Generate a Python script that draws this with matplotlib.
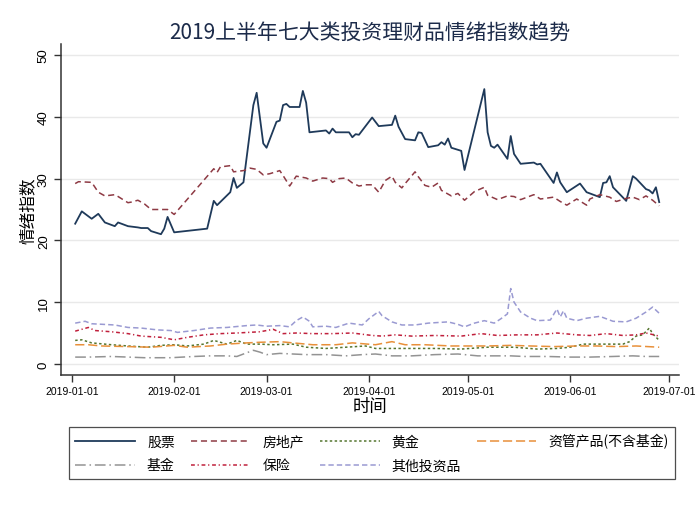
import matplotlib
matplotlib.use("Agg")
import matplotlib.pyplot as plt
import matplotlib.dates as mdates
import pandas as pd

plt.rcParams['font.family'] = ['Noto Sans CJK SC', 'DejaVu Sans']

START = "2019-01-01"

# 股票
stock_days = [1, 3, 6, 8, 10, 13, 14, 17, 20, 21, 23, 24, 27, 28, 29, 31, 41, 43, 44, 48, 49, 50, 52, 55, 56, 58, 59, 62, 63, 64, 65, 66, 69, 70, 71, 72, 77, 78, 79, 80, 84, 85, 86, 87, 89, 91, 93, 97, 98, 99, 101, 104, 105, 106, 108, 111, 112, 113, 114, 115, 118, 119, 125, 126, 127, 128, 129, 132, 133, 134, 136, 140, 141, 142, 146, 147, 148, 150, 154, 156, 160, 161, 162, 163, 164, 168, 170, 171, 174, 175, 176, 177, 178]
stock_vals = [22.7, 24.7, 23.5, 24.3, 22.9, 22.3, 22.9, 22.3, 22.1, 22.0, 22.0, 21.5, 21.0, 21.9, 23.8, 21.3, 21.9, 26.4, 25.7, 27.8, 30.1, 28.5, 29.4, 41.9, 43.9, 35.7, 35.0, 39.2, 39.4, 41.9, 42.1, 41.6, 41.6, 44.2, 42.3, 37.5, 37.8, 37.3, 38.1, 37.5, 37.5, 36.7, 37.2, 37.1, 38.5, 39.9, 38.5, 38.7, 40.2, 38.4, 36.4, 36.2, 37.5, 37.4, 35.1, 35.4, 35.9, 35.5, 36.5, 35.0, 34.5, 31.4, 44.5, 37.5, 35.3, 35.0, 35.5, 33.2, 36.9, 34.0, 32.4, 32.6, 32.3, 32.4, 29.3, 31.0, 29.4, 27.8, 29.2, 27.8, 27.0, 29.3, 29.4, 30.4, 28.6, 26.4, 30.4, 30.0, 28.3, 28.1, 27.6, 28.6, 26.2]

# 房地产
estate_days = [1, 2, 6, 8, 10, 13, 14, 17, 18, 20, 22, 24, 27, 29, 31, 43, 44, 45, 48, 49, 52, 54, 56, 58, 60, 63, 64, 66, 68, 71, 73, 76, 78, 79, 81, 83, 85, 87, 89, 91, 93, 95, 97, 98, 100, 101, 104, 105, 107, 109, 111, 112, 115, 117, 119, 122, 125, 126, 129, 132, 134, 136, 140, 142, 146, 148, 150, 153, 156, 157, 160, 163, 165, 168, 170, 172, 174, 176, 178]
estate_vals = [29.2, 29.5, 29.4, 27.8, 27.2, 27.4, 27.1, 26.1, 26.2, 26.5, 25.9, 25.0, 25.0, 25.0, 24.2, 31.6, 31.0, 31.9, 32.1, 31.1, 31.3, 31.7, 31.5, 30.6, 30.8, 31.3, 30.5, 28.8, 30.4, 30.1, 29.6, 30.1, 30.0, 29.4, 30.0, 30.1, 29.3, 28.8, 29.0, 29.0, 27.8, 29.7, 30.4, 29.4, 28.5, 29.2, 31.1, 30.3, 28.9, 28.6, 29.3, 28.1, 27.2, 27.6, 26.5, 27.9, 28.6, 27.3, 26.6, 27.2, 27.1, 26.6, 27.4, 26.7, 27.0, 26.3, 25.7, 26.7, 25.7, 26.7, 27.4, 27.0, 26.3, 26.8, 27.0, 26.6, 27.2, 26.5, 25.6]

# 黄金
gold_days = [1, 3, 6, 12, 17, 23, 27, 31, 35, 40, 43, 47, 50, 53, 57, 61, 67, 71, 77, 83, 89, 92, 100, 110, 118, 126, 134, 141, 147, 151, 155, 161, 167, 169, 171, 173, 175, 176, 178]
gold_vals = [3.8, 3.9, 3.4, 3.1, 2.9, 2.7, 3.0, 3.1, 2.9, 3.2, 3.8, 3.2, 3.8, 3.2, 3.2, 3.1, 3.2, 2.7, 2.5, 2.7, 2.9, 2.5, 2.5, 2.5, 2.4, 2.7, 2.7, 2.4, 2.5, 2.7, 3.2, 3.2, 3.2, 3.6, 4.5, 4.7, 5.8, 4.9, 3.8]

# 资管产品(不含基金)
asset_days = [1, 5, 9, 17, 24, 31, 35, 42, 47, 53, 57, 63, 67, 73, 80, 85, 92, 97, 101, 107, 115, 120, 126, 133, 139, 146, 153, 159, 165, 171, 178]
asset_vals = [3.1, 3.1, 2.9, 2.8, 2.7, 3.0, 2.7, 2.9, 3.2, 3.4, 3.5, 3.6, 3.4, 3.1, 3.1, 3.4, 3.1, 3.6, 3.1, 3.1, 2.9, 2.9, 2.9, 3.0, 2.9, 2.8, 2.9, 2.9, 2.8, 2.9, 2.7]

# 基金
fund_days = [1, 5, 12, 22, 30, 37, 42, 47, 50, 52, 55, 57, 59, 63, 67, 71, 77, 83, 88, 92, 97, 103, 110, 117, 123, 133, 137, 144, 151, 157, 164, 170, 174, 178]
fund_vals = [1.1, 1.1, 1.2, 1.0, 1.0, 1.2, 1.3, 1.3, 1.2, 1.6, 2.2, 1.9, 1.5, 1.7, 1.6, 1.5, 1.5, 1.3, 1.5, 1.6, 1.3, 1.3, 1.5, 1.6, 1.3, 1.3, 1.2, 1.2, 1.1, 1.1, 1.2, 1.3, 1.2, 1.2]

# 保险
insur_days = [1, 5, 7, 12, 17, 21, 27, 31, 35, 40, 45, 50, 57, 61, 64, 68, 73, 79, 85, 91, 94, 98, 103, 110, 118, 124, 129, 135, 141, 147, 153, 157, 162, 167, 171, 174, 178]
insur_vals = [5.3, 5.9, 5.4, 5.2, 4.9, 4.5, 4.3, 3.9, 4.3, 4.7, 4.9, 5.0, 5.2, 5.6, 4.9, 5.0, 4.9, 4.9, 5.0, 4.6, 4.5, 4.7, 4.5, 4.6, 4.5, 4.9, 4.6, 4.7, 4.7, 5.0, 4.7, 4.6, 4.9, 4.6, 4.7, 5.0, 4.5]

# 其他投资品
other_days = [1, 4, 6, 13, 17, 21, 26, 30, 32, 37, 42, 47, 53, 56, 59, 63, 66, 68, 70, 72, 73, 77, 80, 84, 88, 90, 93, 94, 97, 100, 104, 108, 114, 117, 119, 122, 125, 128, 130, 132, 133, 134, 136, 139, 141, 145, 147, 148, 149, 150, 153, 156, 160, 164, 168, 171, 174, 176, 178]
other_vals = [6.6, 6.9, 6.5, 6.3, 5.9, 5.8, 5.5, 5.4, 5.1, 5.4, 5.8, 5.9, 6.2, 6.3, 6.1, 6.2, 6.0, 7.0, 7.6, 6.9, 6.0, 6.1, 5.9, 6.6, 6.3, 7.3, 8.5, 7.8, 6.8, 6.3, 6.3, 6.6, 6.8, 6.4, 6.0, 6.6, 7.0, 6.6, 7.3, 8.1, 12.2, 10.0, 8.4, 7.4, 7.0, 7.1, 8.9, 7.6, 8.6, 7.4, 7.0, 7.4, 7.7, 6.9, 6.8, 7.4, 8.4, 9.2, 8.2]

x_ticks = ["2019-01-01", "2019-02-01", "2019-03-01", "2019-04-01", "2019-05-01", "2019-06-01", "2019-07-01"]
y_ticks = [0, 10, 20, 30, 40, 50]

def to_dates(days):
    return pd.Timestamp(START) + pd.to_timedelta(days, unit="D")

series = [
    ("股票", stock_days, stock_vals, "#1f3a5a", 1.3, "-"),
    ("房地产", estate_days, estate_vals, "#8e3a44", 1.1, (0, (4, 2.5))),
    ("黄金", gold_days, gold_vals, "#55752f", 1.1, (0, (1.6, 1.6))),
    ("资管产品(不含基金)", asset_days, asset_vals, "#e8903a", 1.1, (0, (6, 2.5))),
    ("基金", fund_days, fund_vals, "#939393", 1.1, (0, (7, 2.5, 1, 2.5))),
    ("保险", insur_days, insur_vals, "#c0203c", 1.1, (0, (2.5, 1.8, 0.8, 1.8))),
    ("其他投资品", other_days, other_vals, "#9a9ad2", 1.1, (0, (3.5, 2))),
]

fig = plt.figure(figsize=(6.97, 5.06), dpi=100)
ax = fig.add_axes([61/697, 1-376/506, (679-61)/697, (376-45)/506])

handles = {}
for name, d, v, c, lw, ls in series:
    ln, = ax.plot(to_dates(d), v, color=c, lw=lw, linestyle=ls, label=name)
    handles[name] = ln

ax.set_ylim(-1.8, 51.8)
ax.set_xlim(pd.Timestamp(START) - pd.Timedelta(days=3.3), pd.Timestamp("2019-07-01") + pd.Timedelta(days=3))
ax.set_yticks(y_ticks)
ax.set_yticklabels([str(t) for t in y_ticks], rotation=90, va="center",
                   fontsize=9.5, family=["Liberation Sans", "DejaVu Sans"])
ax.set_xticks(pd.to_datetime(x_ticks))
ax.set_xticklabels(x_ticks, fontsize=7.5, family=["Liberation Sans", "DejaVu Sans"])
ax.grid(axis="y", color="#e9e9e9", lw=1.0)
ax.set_axisbelow(True)
for s in ["top", "right"]:
    ax.spines[s].set_visible(False)
for s in ["left", "bottom"]:
    ax.spines[s].set_color("#333333")
    ax.spines[s].set_linewidth(1.1)
ax.tick_params(axis="both", color="#333333", length=5, width=1.0)
ax.tick_params(axis="y", pad=3)
ax.tick_params(axis="x", pad=3)

fig.text(370/697, 1-33/506, "2019上半年七大类投资理财品情绪指数趋势", ha="center", va="center",
         fontsize=15, color="#1c2b4a")
fig.text(28.5/697, 1-211/506, "情绪指数", rotation=90, ha="center", va="center", fontsize=12)
fig.text(370/697, 1-407/506, "时间", ha="center", va="center", fontsize=12.5)

order = ["股票", "基金", "房地产", "保险", "黄金", "其他投资品", "资管产品(不含基金)"]
leg = fig.legend([handles[k] for k in order], order, ncol=4, loc="center",
                 bbox_to_anchor=(372/697, 1-454/506), fontsize=10, frameon=True,
                 fancybox=False, edgecolor="#222222", handlelength=4.3, handletextpad=0.85,
                 columnspacing=1.15, labelspacing=0.7, borderpad=0.5)
leg.get_frame().set_linewidth(0.9)

fig.savefig("out.png", dpi=100)
